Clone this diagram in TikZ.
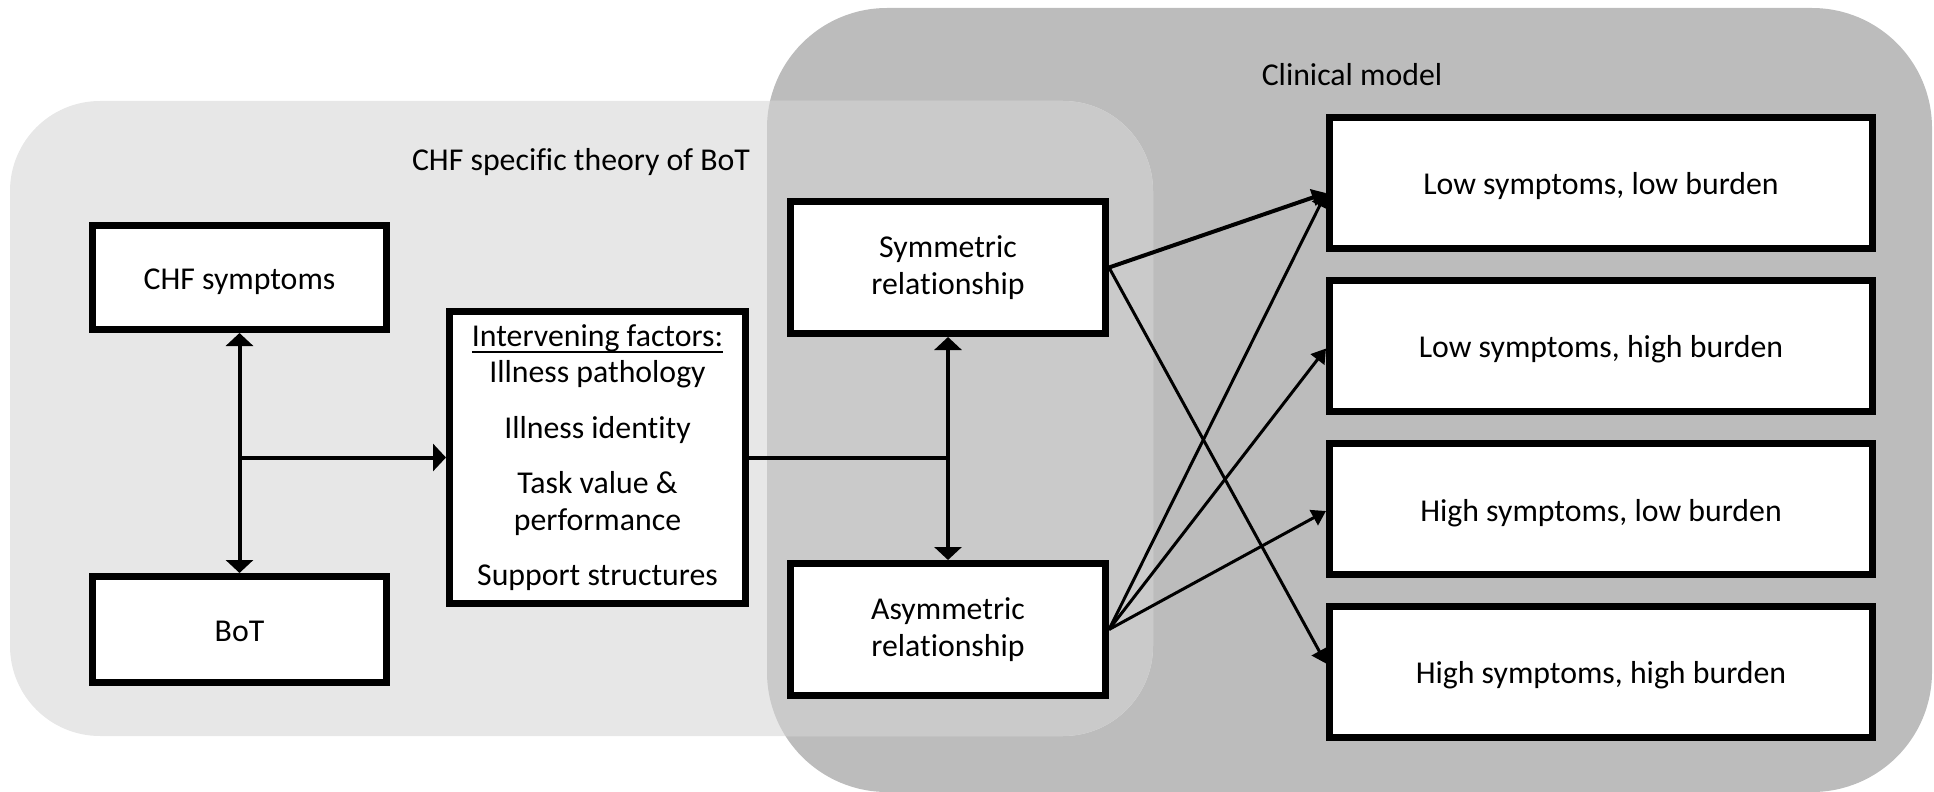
\documentclass[tikz,border=0pt]{standalone}
\usepackage{fontspec}
\setmainfont{Carlito}[Ligatures=NoCommon]
\usetikzlibrary{arrows.meta}

\definecolor{zoneclin}{HTML}{BCBCBC}
\definecolor{zonetheory}{HTML}{E7E7E7}
\definecolor{zoneboth}{HTML}{CACACA}

\newcommand{\bodyfont}{\fontsize{15.9pt}{18.25pt}\selectfont}
% underline drawn close to the baseline, crossing the descenders
\newcommand{\lowul}[1]{\setbox0\hbox{#1}\rlap{\rule[-3.2pt]{\wd0}{1pt}}\box0}

\begin{document}
\begin{tikzpicture}[x=0.5pt,y=-0.5pt,
  box/.style={draw=black, line width=3.5pt, fill=white, inner sep=0pt,
              align=center, font=\bodyfont},
  oneline/.style={box, text height=12pt, text depth=0pt},
  conn/.style={line width=2pt, line cap=butt},
  thin/.style={line width=1.5pt},
  bigtip/.tip={Triangle[length=6.5pt, width=13.5pt]},
  smalltip/.tip={Triangle[length=7pt, width=8.5pt]},
  zonelabel/.style={anchor=base, font=\bodyfont, inner sep=0pt}
]
\useasboundingbox (0,0) rectangle (1934,792);

% grouping zones
\newcommand{\clinpath}{[rounded corners=60pt] (767,8) rectangle (1932,792)}
\newcommand{\theorypath}{[rounded corners=45pt] (10,101) rectangle (1153,736)}
\fill[zoneclin] \clinpath;
\fill[zonetheory] \theorypath;
\begin{scope}
  \clip \clinpath;
  \fill[zoneboth] \theorypath;
\end{scope}

\node[zonelabel] (theorylbl) at (581,170) {CHF specific theory of BoT};
\node[zonelabel] (clinlbl) at (1352,86) {Clinical model};

% boxes
\node[oneline, minimum width=147pt, minimum height=52pt] (chf) at (239.5,277.5) {CHF symptoms};
\node[oneline, minimum width=147pt, minimum height=53pt] (bot) at (239.5,629.5) {BoT};
\node[box, minimum width=148pt, minimum height=146pt] (inter) at (597.5,457.5)
  {\lowul{Intervening factors:}\\ Illness pathology\\[9.5pt]
   Illness identity\\[9.5pt] Task value \&\\ performance\\[9.5pt] Support structures};
\node[box, minimum width=157.5pt, minimum height=66pt] (sym) at (948,267.5) {Symmetric\\ relationship};
\node[box, minimum width=157.5pt, minimum height=66pt] (asym) at (948,629.5) {Asymmetric\\ relationship};

\node[oneline, minimum width=271.5pt, minimum height=65.5pt] (ll) at (1601,183) {Low symptoms, low burden};
\node[oneline, minimum width=271.5pt, minimum height=65.5pt] (lh) at (1601,345.5) {Low symptoms, high burden};
\node[oneline, minimum width=271.5pt, minimum height=65.5pt] (hl) at (1601,509) {High symptoms, low burden};
\node[oneline, minimum width=271.5pt, minimum height=65.5pt] (hh) at (1601,671.5) {High symptoms, high burden};

% connectors of the theory part
\coordinate (jleft) at (chf.south |- inter.west);
\coordinate (jright) at (sym.south |- inter.east);
\draw[conn, {bigtip}-{bigtip}] (chf.south) -- (bot.north);
\draw[conn, -{bigtip}] (jleft) -- (inter.west);
\draw[conn] (inter.east) -- (jright);
\draw[conn, {bigtip}-{bigtip}] (sym.south) -- (asym.north);

% connectors to the clinical categories
\draw[conn, -{smalltip}] (sym.east) -- ([yshift=-5pt]ll.west);
\draw[thin, -{smalltip}] (sym.east) -- ([yshift=4pt]hh.west);
\draw[thin, -{smalltip}] (asym.east) -- ([yshift=-5pt]ll.west);
\draw[thin, -{smalltip}] (asym.east) -- ([yshift=-1.5pt]lh.west);
\draw[thin, -{smalltip}] (asym.east) -- ([yshift=-1pt]hl.west);
\end{tikzpicture}
\end{document}
